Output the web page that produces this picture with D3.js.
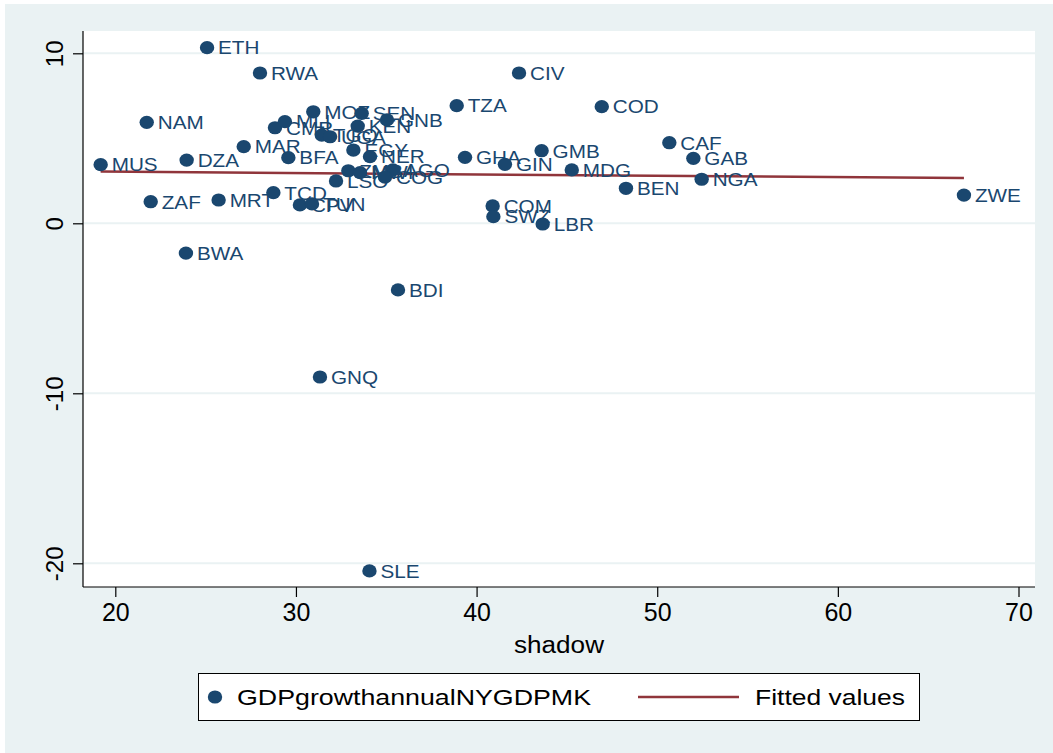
<!DOCTYPE html>
<html>
<head>
<meta charset="utf-8">
<script src="https://cdn.jsdelivr.net/npm/d3@7"></script>
<style>
  html, body { margin: 0; padding: 0; background: #ffffff; }
  svg { display: block; font-family: "Liberation Sans", Arial, sans-serif; }
</style>
</head>
<body>
<svg id="chart" width="1053" height="753"></svg>
<script>
// Country codes, shadow-economy share (x) and GDP growth, annual % (y)
const countries = ["ETH","RWA","CIV","TZA","COD","NAM","MUS","DZA","MAR","ZAF","MRT","TCD","BWA","BDI","GNQ","SLE",
  "GHA","GIN","GMB","MDG","BEN","CAF","GAB","NGA","ZWE","COM","SWZ","LBR",
  "MOZ","SEN","GNB","KEN","CMR","MLI","TGO","UGA","EGY","NER","BFA","ZMB","MWI","AGO","COG","LSO","CPV","TUN"];
const shadow = [25.08,28.01,42.35,38.90,46.93,21.74,19.19,23.95,27.11,21.96,25.72,28.75,23.91,35.65,31.33,34.07,
  39.36,41.57,43.60,45.27,48.27,50.67,52.00,52.46,66.98,40.89,40.93,43.66,
  30.96,33.64,35.04,33.42,28.84,29.39,31.43,31.89,33.18,34.10,29.58,32.90,33.55,35.37,34.93,32.22,30.22,30.89];
const gdpGrowth = [10.33,8.84,8.84,6.92,6.86,5.94,3.45,3.72,4.51,1.27,1.37,1.80,-1.75,-3.92,-9.04,-20.45,
  3.88,3.47,4.27,3.14,2.06,4.74,3.82,2.59,1.66,1.02,0.39,-0.04,
  6.56,6.47,6.08,5.72,5.62,5.98,5.19,5.09,4.31,3.92,3.86,3.09,2.98,3.14,2.72,2.49,1.08,1.14];

// Fitted values line (endpoints at the range of shadow)
const fitX = [19.19, 66.98];
const fitY = [3.04, 2.66];

// Axis ticks
const xTicks = [20, 30, 40, 50, 60, 70];
const yTicks = [-20, -10, 0, 10];

const legendLabels = ["GDPgrowthannualNYGDPMK", "Fitted values"];
const xTitle = "shadow";

const navy = "#1a476f", maroon = "#90353b", bgTint = "#eaf2f3";

const svg = d3.select("#chart");

// plot region
const plot = { left: 83, right: 1035, top: 31, bottom: 587 };

const x = d3.scaleLinear().domain([20, 70]).range([115.3, 1018.5]);
const y = d3.scaleLinear().domain([-20, 10]).range([563.3, 53.3]);

// outer graph region and white plot region
svg.append("rect").attr("x", 5).attr("y", 4).attr("width", 1048).attr("height", 749).attr("fill", bgTint);
svg.append("rect").attr("x", plot.left).attr("y", plot.top)
  .attr("width", plot.right - plot.left).attr("height", plot.bottom - plot.top).attr("fill", "#ffffff");

// horizontal gridlines
svg.append("g").selectAll("line").data(yTicks).join("line")
  .attr("x1", plot.left).attr("x2", plot.right)
  .attr("y1", d => y(d)).attr("y2", d => y(d))
  .attr("stroke", bgTint).attr("stroke-width", 2);

// fitted line
const fitData = fitX.map((v, i) => [v, fitY[i]]);
svg.append("path").datum(fitData)
  .attr("d", d3.line().x(d => x(d[0])).y(d => y(d[1])))
  .attr("fill", "none").attr("stroke", maroon).attr("stroke-width", 2.5);

// markers
const pts = countries.map((c, i) => ({ c, sx: shadow[i], g: gdpGrowth[i] }));
svg.append("g").selectAll("ellipse").data(pts).join("ellipse")
  .attr("cx", d => x(d.sx)).attr("cy", d => y(d.g))
  .attr("rx", 7.2).attr("ry", 6.6).attr("fill", navy);

// marker labels
svg.append("g").selectAll("text").data(pts).join("text")
  .attr("transform", d => `translate(${x(d.sx) + 11},${y(d.g) + 6.8}) scale(1.15,1)`)
  .attr("font-size", 18).attr("fill", navy)
  .text(d => d.c);

const plainInt = d => String(d);

// x axis
const xAxis = svg.append("g").attr("transform", `translate(0,${plot.bottom})`)
  .call(d3.axisBottom(x).tickValues(xTicks).tickSize(10).tickPadding(6).tickFormat(plainInt));
xAxis.select(".domain").remove();
xAxis.selectAll(".tick line").attr("stroke", "#000").attr("stroke-width", 1.2);
xAxis.selectAll(".tick text").attr("font-size", 25).attr("fill", "#000")
  .attr("font-family", "Liberation Sans, Arial, sans-serif");
svg.append("line").attr("x1", plot.left).attr("x2", plot.right)
  .attr("y1", plot.bottom).attr("y2", plot.bottom).attr("stroke", "#000").attr("stroke-width", 1.2);

// y axis
const yAxis = svg.append("g").attr("transform", `translate(${plot.left},0)`)
  .call(d3.axisLeft(y).tickValues(yTicks).tickSize(10).tickFormat(plainInt));
yAxis.select(".domain").remove();
yAxis.selectAll(".tick line").attr("stroke", "#000").attr("stroke-width", 1.2);
yAxis.selectAll(".tick text")
  .attr("x", 0).attr("dy", null)
  .attr("transform", "translate(-29,0) rotate(-90)")
  .attr("text-anchor", "middle").attr("dominant-baseline", "central")
  .attr("font-size", 24).attr("fill", "#000")
  .attr("font-family", "Liberation Sans, Arial, sans-serif");
svg.append("line").attr("x1", plot.left).attr("x2", plot.left)
  .attr("y1", plot.top).attr("y2", plot.bottom).attr("stroke", "#000").attr("stroke-width", 1.2);

// x title
svg.append("text").attr("x", (plot.left + plot.right) / 2 - 45).attr("y", 653)
  .attr("font-size", 23).attr("fill", "#000")
  .attr("textLength", 90).attr("lengthAdjust", "spacingAndGlyphs").text(xTitle);

// legend
const lg = svg.append("g");
lg.append("rect").attr("x", 198.5).attr("y", 673.5).attr("width", 721).attr("height", 47)
  .attr("fill", "#fff").attr("stroke", "#000").attr("stroke-width", 1);
lg.append("ellipse").attr("cx", 215).attr("cy", 697).attr("rx", 7.2).attr("ry", 6.6).attr("fill", navy);
lg.append("text").attr("x", 237).attr("y", 705).attr("font-size", 22)
  .attr("textLength", 354).attr("lengthAdjust", "spacingAndGlyphs").text(legendLabels[0]);
lg.append("line").attr("x1", 638).attr("x2", 739).attr("y1", 697).attr("y2", 697)
  .attr("stroke", maroon).attr("stroke-width", 2.5);
lg.append("text").attr("x", 755).attr("y", 705).attr("font-size", 22)
  .attr("textLength", 150).attr("lengthAdjust", "spacingAndGlyphs").text(legendLabels[1]);
</script>
</body>
</html>
